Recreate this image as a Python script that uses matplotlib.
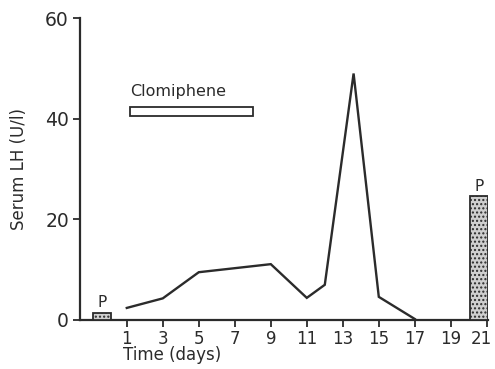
import matplotlib.pyplot as plt
import matplotlib.transforms as mtransforms
from matplotlib.patches import Rectangle

# LH 측정값 (일, U/l)
days = [1, 3, 5, 9, 11, 12, 13.6, 15, 17]
lh = [2.4, 4.3, 9.5, 11.1, 4.4, 7.0, 49, 4.6, 0.2]

# 프로게스테론 막대 (시작일, 끝일, 높이)
p_bars = [(-0.85, 0.15, 1.4), (20.05, 21.05, 24.6)]
# 클로미펜 투여 기간
clomiphene = (1.2, 8.0)

xticks = list(range(1, 22, 2))
yticks = [0, 20, 40, 60]

ink = "#2b2b2b"
plt.rcParams["font.family"] = "DejaVu Sans"

fig = plt.figure(figsize=(4.95, 3.69), dpi=100)
ax = fig.add_axes([0.1616, 0.1328, 0.824, 0.818])

ax.plot(days, lh, color=ink, lw=1.7, solid_joinstyle="miter")

for x0, x1, h in p_bars:
    ax.add_patch(Rectangle((x0, 0), x1 - x0, h, facecolor="#cfcfcf",
                           edgecolor=ink, lw=1.3, hatch="....", zorder=3))
    ax.text((x0 + x1) / 2, h + 0.5, "P", ha="center", va="bottom",
            fontsize=11, color=ink)

ax.add_patch(Rectangle((clomiphene[0], 40.5), clomiphene[1] - clomiphene[0], 1.8,
                       facecolor="white", edgecolor=ink, lw=1.3))
ax.text(clomiphene[0], 44, "Clomiphene", ha="left", va="bottom",
        fontsize=11.5, color=ink)

ax.set_xlim(-1.6, 21.06)
ax.set_ylim(0, 60)
ax.set_xticks(xticks)
ax.set_yticks(yticks)
ax.tick_params(axis="x", labelsize=12, colors=ink, length=5, width=1.3, pad=2)
ax.tick_params(axis="y", labelsize=13.5, colors=ink, length=5, width=1.3, pad=3)

# 마지막 눈금 라벨(21)이 잘리지 않도록 살짝 왼쪽으로
last = ax.get_xticklabels()[-1]
last.set_transform(last.get_transform() +
                   mtransforms.ScaledTranslation(-5 / 100, 0, fig.dpi_scale_trans))

for side in ["top", "right"]:
    ax.spines[side].set_visible(False)
for side in ["left", "bottom"]:
    ax.spines[side].set_color(ink)
    ax.spines[side].set_linewidth(1.6)

ax.set_ylabel("Serum LH (U/l)", fontsize=12, color=ink, labelpad=12)
fig.text(123 / 495, 1 - 355 / 369, "Time (days)", ha="left", va="center",
         fontsize=12, color=ink)

fig.savefig("out.png", dpi=100, facecolor="white")
